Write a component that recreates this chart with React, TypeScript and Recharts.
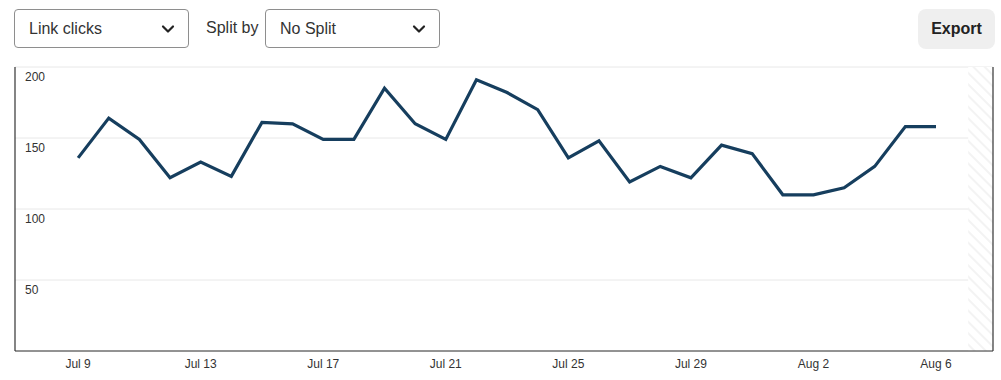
import React from "react";
import {
  LineChart,
  Line,
  XAxis,
  YAxis,
  CartesianGrid,
  ReferenceArea,
} from "recharts";

// days since Jul 9
const days = [
  0, 1, 2, 3, 4, 5, 6, 7, 8, 9, 10, 11, 12, 13, 14, 15, 16, 17, 18, 19, 20, 21, 22, 23, 24, 25, 26, 27, 28,
];
const linkClicks = [
  136, 164, 149, 122, 133, 123, 161, 160, 149, 149, 185, 160, 149, 191, 182, 170, 136, 148, 119, 130, 122,
  145, 139, 110, 110, 115, 130, 158, 158,
];
const xTicks = [0, 4, 8, 12, 16, 20, 24, 28];
const xTickLabels = ["Jul 9", "Jul 13", "Jul 17", "Jul 21", "Jul 25", "Jul 29", "Aug 2", "Aug 6"];
const yTicks = [50, 100, 150, 200];

const X_MIN = -2.06;
const X_MAX = 29.86;
const PARTIAL_FROM = 29.05;

const data = days.map((d, i) => ({ day: d, clicks: linkClicks[i] }));

const FONT = '"Liberation Sans", Arial, Helvetica, sans-serif';

function Chevron() {
  return (
    <svg width="14" height="10" viewBox="0 0 14 10" style={{ display: "block" }}>
      <path d="M2 2.5 L7 7.5 L12 2.5" fill="none" stroke="#222" strokeWidth="2.2" strokeLinecap="round" strokeLinejoin="round" />
    </svg>
  );
}

function Select({ left, label }: { left: number; label: string }) {
  return (
    <div
      style={{
        position: "absolute",
        left,
        top: 9,
        width: 175,
        height: 39,
        border: "1px solid #8e8e8e",
        borderRadius: 4,
        display: "flex",
        alignItems: "center",
        justifyContent: "space-between",
        padding: "0 13px 0 14px",
        boxSizing: "border-box",
        fontSize: 16,
        color: "#333",
        background: "#fff",
      }}
    >
      <span>{label}</span>
      <Chevron />
    </div>
  );
}

function YTick(props: any) {
  const { x, y, payload } = props;
  return (
    <text x={x + 18} y={y + 14} fill="#333" fontSize={12} fontFamily={FONT} textAnchor="start">
      {payload.value}
    </text>
  );
}

export default function App() {
  return (
    <div style={{ position: "absolute", left: 0, top: 0, width: 1001, height: 380, background: "#fff", fontFamily: FONT }}>
      <LineChart
        width={1001}
        height={380}
        data={data}
        margin={{ top: 67, right: 7, bottom: 0, left: 14 }}
      >
        <defs>
          <pattern id="hatch" width="8" height="8" patternUnits="userSpaceOnUse" patternTransform="rotate(-45)">
            <rect width="8" height="8" fill="#fff" />
            <line x1="0" y1="0" x2="0" y2="8" stroke="#f3f3f3" strokeWidth="4" />
          </pattern>
        </defs>
        <CartesianGrid vertical={false} stroke="#e8e8e8" />
        <ReferenceArea x1={PARTIAL_FROM} x2={X_MAX} fill="url(#hatch)" fillOpacity={1} stroke="none" />
        <XAxis
          dataKey="day"
          type="number"
          domain={[X_MIN, X_MAX]}
          ticks={xTicks}
          tickFormatter={(v) => xTickLabels[xTicks.indexOf(v)]}
          tick={{ fontSize: 12, fill: "#333", fontFamily: FONT }}
          axisLine={{ stroke: "#333", strokeWidth: 1.2 }}
          tickLine={false}
          height={29}
          allowDataOverflow
        />
        <YAxis
          domain={[0, 200]}
          ticks={yTicks}
          tick={<YTick />}
          axisLine={{ stroke: "#333", strokeWidth: 1.2 }}
          tickLine={false}
          width={1}
        />
        <YAxis
          yAxisId="frame"
          orientation="right"
          domain={[0, 200]}
          tick={false}
          axisLine={{ stroke: "#333", strokeWidth: 1.2 }}
          tickLine={false}
          width={1}
        />
        <Line
          type="linear"
          dataKey="clicks"
          stroke="#163e5e"
          strokeWidth={3.2}
          dot={false}
          isAnimationActive={false}
        />
      </LineChart>

      <Select left={14} label="Link clicks" />
      <div style={{ position: "absolute", left: 206, top: 19, fontSize: 16, color: "#333" }}>Split by</div>
      <Select left={265} label="No Split" />
      <div
        style={{
          position: "absolute",
          left: 918,
          top: 9,
          width: 77,
          height: 40,
          borderRadius: 8,
          background: "#efefef",
          display: "flex",
          alignItems: "center",
          justifyContent: "center",
          fontSize: 16,
          fontWeight: 700,
          color: "#222",
        }}
      >
        Export
      </div>
    </div>
  );
}
